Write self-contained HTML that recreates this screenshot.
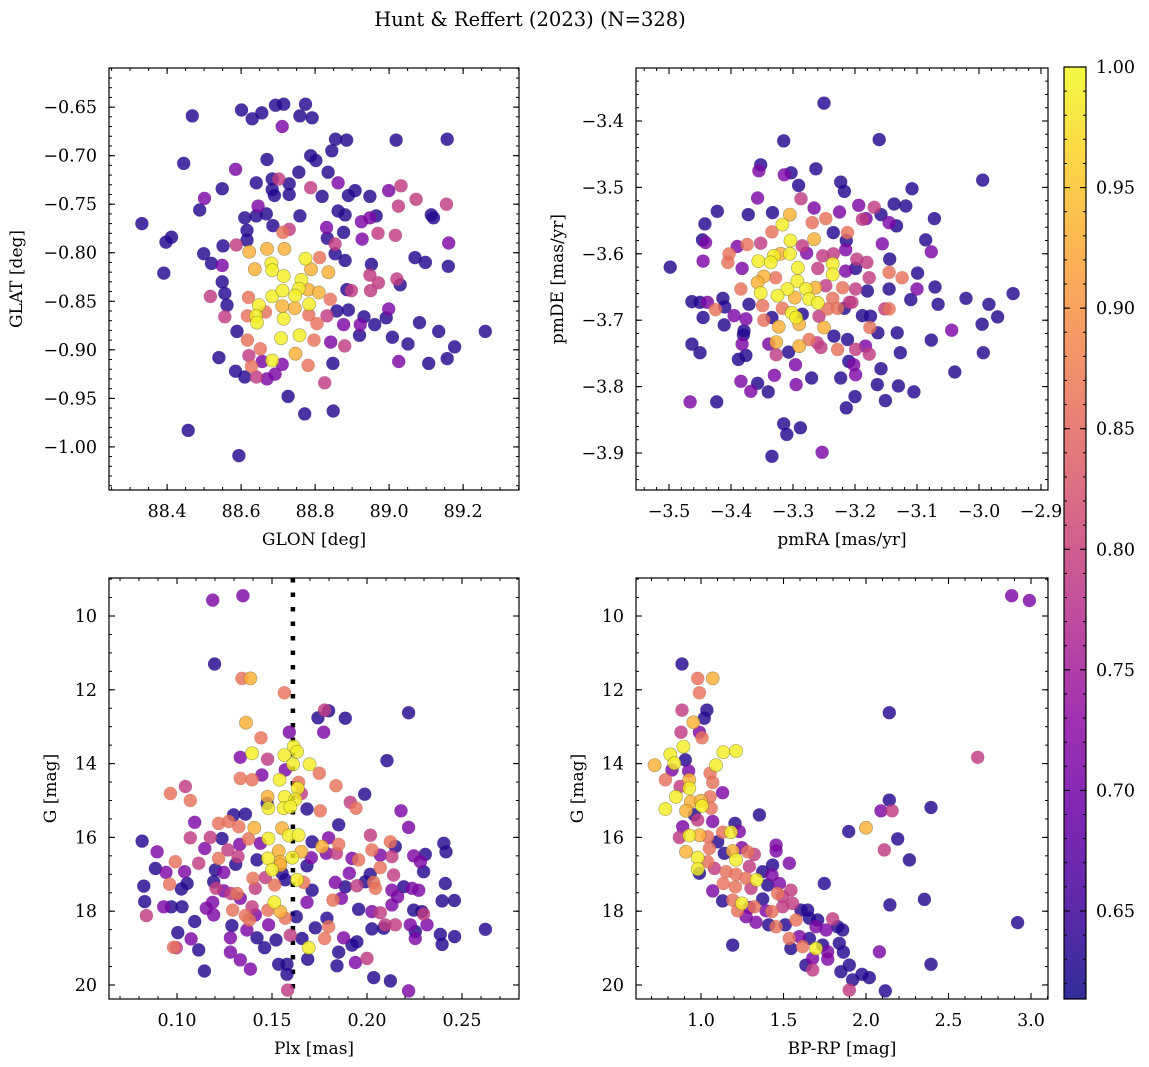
<!DOCTYPE html>
<html><head><meta charset="utf-8"><style>
html,body{margin:0;padding:0;background:#fff;}
svg{display:block;font-family:"DejaVu Serif","Liberation Serif",serif;}
</style></head><body>
<svg id="fig" width="1149" height="1067" viewBox="0 0 1149 1067" xmlns="http://www.w3.org/2000/svg">
<text x="530" y="26" font-size="19.5" text-anchor="middle">Hunt &amp; Reffert (2023) (N=328)</text>
</svg>
<script>
// probability classes: D=0.63 P=0.71 M=0.79 O=0.86 A=0.93 Y=0.99
const glon=[88.468,88.601,88.630,88.656,88.693,88.715,88.774,88.759,88.792,88.711,88.855,88.885,89.019,89.157,88.845,88.788,88.802,88.670,88.445,88.585,88.835,88.756,88.684,88.702,88.641,88.549,88.730,88.684,88.788,88.862,88.819,88.730,88.690,88.908,88.890,88.948,88.999,89.032,89.073,89.155,89.025,88.501,88.488,88.332,88.646,88.668,88.641,88.610,88.759,88.686,88.862,88.881,88.925,88.948,88.965,89.114,89.120,88.831,88.730,88.616,88.713,88.877,88.833,88.970,89.017,88.927,89.161,88.397,88.412,88.551,88.587,88.616,88.717,88.670,88.622,88.854,88.854,88.499,88.520,88.549,88.391,88.637,88.682,88.684,88.715,88.774,88.789,88.812,88.836,88.881,88.952,88.948,89.070,89.098,89.160,88.971,89.021,89.030,88.763,88.756,88.781,88.810,88.549,88.556,88.517,88.620,88.684,88.712,88.746,88.648,88.711,88.745,88.784,88.841,88.886,88.898,88.950,88.562,88.640,88.643,88.715,88.556,88.617,88.666,88.783,88.832,88.859,88.890,88.999,88.992,88.932,88.922,88.961,88.877,89.082,89.134,89.260,89.177,89.157,89.107,89.051,89.009,89.026,88.920,88.589,88.617,88.652,88.708,88.758,88.797,88.805,88.842,88.880,88.848,88.747,88.684,88.711,88.621,88.657,88.628,88.540,88.781,88.585,88.610,88.641,88.670,88.692,88.826,88.727,88.772,88.849,88.457,88.594];
const glat=[-0.659,-0.653,-0.662,-0.656,-0.648,-0.647,-0.647,-0.659,-0.661,-0.670,-0.683,-0.684,-0.684,-0.683,-0.695,-0.700,-0.705,-0.704,-0.708,-0.714,-0.717,-0.717,-0.724,-0.724,-0.728,-0.734,-0.729,-0.735,-0.733,-0.728,-0.742,-0.740,-0.741,-0.736,-0.741,-0.742,-0.736,-0.731,-0.745,-0.750,-0.752,-0.744,-0.756,-0.770,-0.752,-0.760,-0.762,-0.764,-0.762,-0.772,-0.757,-0.761,-0.768,-0.764,-0.762,-0.761,-0.764,-0.774,-0.776,-0.777,-0.779,-0.779,-0.785,-0.780,-0.782,-0.786,-0.790,-0.789,-0.784,-0.793,-0.792,-0.787,-0.796,-0.796,-0.799,-0.791,-0.801,-0.801,-0.811,-0.813,-0.821,-0.817,-0.811,-0.818,-0.824,-0.806,-0.817,-0.805,-0.820,-0.808,-0.812,-0.823,-0.805,-0.810,-0.814,-0.831,-0.827,-0.833,-0.828,-0.837,-0.838,-0.841,-0.830,-0.842,-0.845,-0.846,-0.845,-0.839,-0.844,-0.854,-0.855,-0.857,-0.853,-0.848,-0.838,-0.839,-0.839,-0.854,-0.865,-0.872,-0.868,-0.866,-0.865,-0.861,-0.864,-0.865,-0.860,-0.859,-0.858,-0.867,-0.866,-0.874,-0.874,-0.874,-0.872,-0.881,-0.881,-0.897,-0.909,-0.914,-0.894,-0.887,-0.912,-0.885,-0.881,-0.890,-0.899,-0.888,-0.885,-0.890,-0.873,-0.892,-0.896,-0.914,-0.904,-0.911,-0.915,-0.906,-0.912,-0.917,-0.908,-0.916,-0.922,-0.928,-0.928,-0.930,-0.925,-0.934,-0.948,-0.966,-0.963,-0.983,-1.009];
const prob1=[.63,.63,.63,.63,.63,.63,.63,.63,.63,.71,.63,.63,.63,.63,.63,.63,.63,.63,.63,.71,.63,.63,.63,.79,.63,.63,.63,.63,.79,.71,.63,.63,.63,.63,.63,.63,.71,.79,.79,.79,.79,.71,.63,.63,.71,.63,.63,.63,.63,.63,.63,.63,.71,.71,.63,.63,.63,.71,.79,.63,.86,.63,.63,.79,.79,.71,.71,.63,.63,.63,.79,.63,.93,.93,.93,.79,.63,.63,.63,.71,.63,.93,.99,.99,.99,.99,.93,.86,.93,.63,.63,.79,.63,.63,.63,.79,.79,.63,.99,.99,.93,.93,.63,.63,.79,.86,.99,.99,.99,.99,.93,.93,.99,.86,.63,.79,.79,.63,.99,.99,.99,.79,.86,.86,.86,.79,.63,.63,.71,.63,.63,.71,.63,.71,.63,.63,.63,.63,.63,.63,.63,.63,.71,.63,.63,.86,.86,.99,.99,.86,.86,.71,.79,.63,.93,.99,.71,.79,.71,.86,.63,.86,.63,.63,.79,.71,.71,.79,.63,.63,.63,.63,.63];

const pmra=[-3.250,-3.315,-3.161,-2.994,-3.352,-3.355,-3.263,-3.314,-3.303,-3.291,-3.287,-3.223,-3.217,-3.108,-3.357,-3.266,-3.422,-3.372,-3.333,-3.305,-3.317,-3.269,-3.247,-3.225,-3.194,-3.169,-3.182,-3.158,-3.188,-3.137,-3.118,-3.133,-3.145,-3.072,-3.442,-3.446,-3.441,-3.445,-3.498,-3.334,-3.304,-3.266,-3.285,-3.235,-3.212,-3.214,-3.156,-3.086,-3.077,-3.374,-3.390,-3.352,-3.403,-3.331,-3.320,-3.305,-3.278,-3.252,-3.235,-3.215,-3.197,-3.181,-3.144,-3.356,-3.336,-3.405,-3.382,-3.292,-3.236,-3.236,-3.260,-3.215,-3.199,-3.177,-3.145,-3.124,-3.099,-3.347,-3.357,-3.328,-3.293,-3.309,-3.279,-3.264,-3.247,-3.220,-3.199,-3.180,-3.145,-3.100,-3.071,-2.945,-3.384,-3.352,-3.325,-3.297,-3.274,-3.260,-3.236,-3.209,-3.110,-3.066,-3.021,-2.984,-2.970,-3.463,-3.450,-3.438,-3.425,-3.413,-3.410,-3.395,-3.445,-3.411,-3.371,-3.349,-3.347,-3.334,-3.317,-3.302,-3.295,-3.290,-3.285,-3.258,-3.244,-3.228,-3.217,-3.205,-3.188,-3.175,-3.152,-3.145,-3.176,-3.163,-3.132,-3.077,-3.044,-2.995,-2.993,-3.039,-3.376,-3.379,-3.380,-3.323,-3.327,-3.339,-3.290,-3.250,-3.274,-3.255,-3.234,-3.228,-3.212,-3.199,-3.183,-3.177,-3.463,-3.450,-3.382,-3.388,-3.376,-3.327,-3.307,-3.296,-3.261,-3.210,-3.202,-3.199,-3.158,-3.127,-3.223,-3.384,-3.357,-3.368,-3.330,-3.340,-3.295,-3.270,-3.164,-3.130,-3.105,-3.200,-3.151,-3.214,-3.466,-3.423,-3.315,-3.310,-3.288,-3.334,-3.253];
const pmde=[-3.373,-3.430,-3.428,-3.489,-3.466,-3.475,-3.472,-3.481,-3.478,-3.497,-3.517,-3.492,-3.506,-3.502,-3.516,-3.531,-3.536,-3.541,-3.538,-3.541,-3.556,-3.553,-3.547,-3.537,-3.527,-3.530,-3.547,-3.541,-3.548,-3.525,-3.528,-3.558,-3.553,-3.547,-3.555,-3.579,-3.583,-3.611,-3.620,-3.567,-3.580,-3.578,-3.588,-3.568,-3.568,-3.580,-3.585,-3.579,-3.597,-3.586,-3.589,-3.584,-3.600,-3.603,-3.600,-3.600,-3.599,-3.603,-3.600,-3.594,-3.608,-3.613,-3.608,-3.611,-3.613,-3.613,-3.622,-3.621,-3.615,-3.631,-3.622,-3.626,-3.622,-3.636,-3.628,-3.636,-3.629,-3.634,-3.643,-3.636,-3.641,-3.653,-3.653,-3.651,-3.648,-3.651,-3.653,-3.656,-3.653,-3.653,-3.650,-3.660,-3.653,-3.659,-3.663,-3.666,-3.668,-3.674,-3.667,-3.673,-3.669,-3.676,-3.667,-3.676,-3.695,-3.672,-3.673,-3.673,-3.684,-3.667,-3.680,-3.693,-3.696,-3.707,-3.676,-3.678,-3.700,-3.696,-3.682,-3.689,-3.696,-3.706,-3.691,-3.694,-3.683,-3.682,-3.682,-3.673,-3.693,-3.694,-3.683,-3.683,-3.711,-3.719,-3.719,-3.730,-3.715,-3.706,-3.749,-3.778,-3.698,-3.716,-3.722,-3.710,-3.733,-3.736,-3.739,-3.711,-3.729,-3.741,-3.724,-3.744,-3.729,-3.744,-3.739,-3.751,-3.736,-3.749,-3.736,-3.759,-3.753,-3.752,-3.748,-3.767,-3.734,-3.762,-3.767,-3.782,-3.773,-3.749,-3.787,-3.792,-3.795,-3.807,-3.783,-3.808,-3.797,-3.787,-3.797,-3.799,-3.808,-3.815,-3.821,-3.832,-3.823,-3.823,-3.856,-3.872,-3.862,-3.905,-3.899];
const prob2=[.63,.63,.63,.63,.63,.71,.63,.71,.63,.63,.79,.63,.63,.63,.71,.71,.63,.63,.63,.93,.99,.86,.86,.71,.71,.79,.71,.63,.79,.63,.63,.63,.71,.63,.63,.63,.71,.71,.63,.86,.99,.93,.79,.63,.86,.63,.71,.63,.71,.86,.71,.79,.86,.99,.93,.99,.71,.79,.79,.71,.79,.79,.63,.99,.99,.86,.71,.99,.99,.99,.79,.71,.63,.79,.86,.86,.63,.93,.93,.86,.99,.99,.99,.93,.79,.86,.79,.63,.63,.71,.63,.63,.86,.99,.99,.93,.99,.99,.86,.79,.63,.63,.63,.63,.63,.63,.63,.71,.86,.63,.63,.71,.63,.63,.63,.86,.86,.63,.86,.99,.99,.93,.63,.79,.86,.86,.63,.79,.63,.63,.79,.86,.86,.63,.63,.63,.71,.63,.63,.63,.71,.63,.63,.93,.93,.71,.93,.93,.86,.79,.63,.86,.63,.79,.71,.79,.63,.63,.71,.63,.63,.79,.63,.71,.79,.63,.71,.71,.63,.63,.63,.71,.63,.71,.71,.63,.71,.63,.63,.63,.63,.63,.63,.63,.71,.63,.63,.63,.63,.63,.71];

const plx=[0.1188,0.1347,0.1198,0.1342,0.1386,0.1565,0.1777,0.1798,0.1742,0.1886,0.2219,0.1772,0.1363,0.1442,0.1591,0.1614,0.1632,0.1565,0.1395,0.1333,0.1477,0.1611,0.1698,0.1570,0.2105,0.1447,0.1749,0.1333,0.1395,0.1540,0.1640,0.1837,0.1044,0.0965,0.1070,0.1635,0.1654,0.1477,0.1567,0.1623,0.1474,0.1481,0.1561,0.1596,0.1988,0.1912,0.1942,0.1684,0.1754,0.2179,0.1093,0.1298,0.1360,0.1219,0.1272,0.1325,0.1407,0.1553,0.1588,0.1481,0.1640,0.1851,0.2219,0.0816,0.1070,0.1175,0.1237,0.1330,0.1377,0.1439,0.1711,0.1763,0.1798,0.1851,0.2018,0.2123,0.2149,0.2404,0.2416,0.0895,0.1146,0.1219,0.1268,0.1321,0.1421,0.1479,0.1535,0.1544,0.1607,0.1654,0.1707,0.1786,0.1839,0.1921,0.1956,0.2026,0.2070,0.2131,0.2246,0.2307,0.2281,0.0991,0.1114,0.0886,0.0942,0.1040,0.1202,0.1246,0.1309,0.1500,0.1553,0.1544,0.1684,0.1465,0.1400,0.1632,0.1667,0.1907,0.2017,0.2070,0.2140,0.2298,0.0825,0.0961,0.1053,0.1023,0.1193,0.1205,0.1246,0.1284,0.1316,0.1333,0.1412,0.1514,0.1570,0.1711,0.1833,0.1886,0.1947,0.1991,0.2035,0.2044,0.2131,0.2161,0.2193,0.2237,0.2272,0.2412,0.0830,0.0930,0.0970,0.1026,0.0839,0.1154,0.1188,0.1193,0.1293,0.1395,0.1360,0.1381,0.1412,0.1479,0.1512,0.1544,0.1570,0.1628,0.1684,0.1821,0.1865,0.1956,0.2026,0.2070,0.2131,0.2246,0.2298,0.2395,0.2460,0.1093,0.1004,0.1074,0.0982,0.0996,0.1114,0.1281,0.1289,0.1368,0.1421,0.1461,0.1521,0.1482,0.1596,0.1658,0.1693,0.1688,0.1728,0.1777,0.1789,0.1798,0.1851,0.1877,0.1921,0.1939,0.1947,0.2000,0.1842,0.2026,0.2088,0.2096,0.2149,0.2228,0.2254,0.2289,0.2316,0.2386,0.2395,0.2461,0.2623,0.2254,0.2035,0.2123,0.2219,0.1535,0.1579,0.1579,0.1582,0.1386,0.1333,0.1281,0.1144];
const gmag3=[9.57,9.45,11.30,11.69,11.69,12.08,12.55,12.57,12.76,12.77,12.62,13.15,12.89,13.30,13.15,13.54,13.68,13.77,13.72,13.83,13.88,14.02,14.02,14.17,13.92,14.31,14.26,14.40,14.44,14.44,14.51,14.60,14.62,14.81,15.00,14.67,14.81,14.90,14.90,14.97,15.08,15.21,15.21,15.17,14.83,15.05,15.21,15.23,15.28,15.28,15.59,15.39,15.37,15.62,15.57,15.71,15.74,15.75,15.95,16.03,15.94,15.66,15.73,16.10,16.01,16.00,16.03,16.19,16.04,16.16,16.12,16.25,16.01,16.19,15.94,16.12,16.25,16.16,16.39,16.39,16.30,16.57,16.34,16.52,16.61,16.57,16.37,16.66,16.55,16.39,16.55,16.43,16.43,16.57,16.61,16.34,16.48,16.52,16.50,16.46,16.66,16.66,16.70,16.84,16.95,16.93,16.88,16.95,16.73,16.88,16.97,16.75,16.77,17.09,17.11,17.15,17.22,16.97,17.00,16.82,17.02,16.93,17.32,17.27,17.25,17.40,17.20,17.38,17.45,17.52,17.52,17.65,17.38,17.29,17.15,17.43,17.22,17.34,17.31,17.20,17.22,17.38,17.43,17.61,17.34,17.38,17.43,17.25,17.74,17.88,17.88,17.88,18.12,17.92,17.76,18.10,17.97,17.88,18.12,18.24,18.10,17.97,17.76,18.01,18.19,18.15,17.76,17.70,17.65,17.95,18.01,18.04,17.83,17.97,18.08,17.72,17.71,18.28,18.58,18.75,18.98,18.99,19.05,18.72,18.39,18.51,18.72,18.99,18.78,18.37,18.65,18.74,18.99,19.30,18.45,18.74,18.19,18.42,19.11,18.72,18.92,19.39,18.83,19.28,19.48,18.48,18.46,18.37,18.37,18.37,18.74,18.01,18.37,18.63,18.90,18.69,18.49,18.55,19.80,19.89,20.16,19.44,19.44,19.71,20.14,19.57,19.32,19.11,19.62];
const prob3=[.71,.71,.63,.86,.93,.86,.79,.63,.63,.63,.63,.71,.93,.86,.71,.99,.99,.99,.99,.71,.79,.99,.99,.71,.63,.71,.86,.86,.86,.99,.86,.86,.79,.86,.86,.99,.79,.93,.99,.99,.63,.99,.99,.99,.63,.79,.86,.63,.86,.71,.71,.63,.63,.86,.86,.86,.93,.93,.99,.99,.99,.63,.71,.63,.79,.79,.63,.71,.86,.71,.63,.93,.71,.86,.79,.86,.63,.63,.63,.71,.71,.86,.79,.79,.63,.99,.93,.93,.99,.93,.71,.71,.79,.71,.86,.86,.71,.79,.71,.63,.71,.86,.79,.63,.71,.71,.63,.71,.63,.99,.63,.93,.63,.79,.86,.99,.86,.71,.63,.86,.79,.63,.63,.86,.63,.63,.63,.79,.71,.79,.86,.71,.79,.86,.63,.63,.71,.63,.79,.63,.86,.86,.71,.71,.63,.71,.71,.63,.63,.71,.63,.63,.79,.71,.71,.71,.86,.79,.86,.86,.71,.86,.99,.93,.86,.63,.71,.86,.71,.63,.71,.79,.71,.63,.79,.63,.63,.63,.63,.71,.86,.79,.63,.71,.63,.71,.63,.63,.63,.71,.79,.63,.99,.63,.63,.86,.63,.86,.63,.71,.63,.71,.63,.79,.63,.63,.63,.79,.79,.71,.71,.63,.71,.63,.63,.63,.63,.63,.63,.63,.71,.63,.63,.63,.79,.71,.71,.71,.63];

const bprp=[2.883,2.990,0.885,0.980,1.071,0.990,0.885,1.036,1.020,2.141,0.954,0.879,0.990,1.006,0.893,0.814,0.838,0.719,0.905,1.135,1.212,1.091,2.677,0.824,0.784,0.925,0.929,1.055,1.071,0.873,0.929,0.848,0.939,1.000,1.055,1.131,0.784,0.909,1.006,1.061,0.960,0.980,1.071,1.354,2.141,2.091,2.158,2.394,0.889,0.869,0.929,0.990,1.040,1.182,1.206,1.232,1.131,1.101,1.895,2.000,2.192,0.909,0.980,1.040,1.051,1.141,1.192,1.212,1.248,1.283,1.323,1.455,1.455,1.535,1.434,2.111,2.263,0.980,0.990,1.081,1.152,1.212,1.293,1.374,1.430,1.337,1.273,1.135,1.071,1.208,1.303,1.404,1.475,1.545,1.465,1.495,1.374,1.747,1.131,1.192,1.248,1.222,1.293,1.323,1.394,1.430,1.495,1.556,1.606,1.646,1.273,1.333,1.410,1.455,1.511,1.576,1.657,1.707,1.798,1.697,1.758,1.828,1.859,1.535,1.596,1.657,1.697,1.616,1.545,1.737,1.768,1.838,1.863,1.768,1.677,1.636,1.677,1.848,1.899,1.919,1.976,2.020,1.899,2.117,2.081,2.145,2.354,2.394,2.919,1.192];
const gmag4=[9.45,9.58,11.30,11.69,11.69,12.08,12.55,12.55,12.77,12.62,12.88,13.15,13.15,13.30,13.54,13.75,13.99,14.04,13.90,13.69,13.66,14.04,13.83,14.17,14.44,14.20,14.44,14.26,14.51,14.62,14.67,14.90,15.03,15.01,14.90,14.79,15.23,15.28,15.15,15.21,15.39,15.53,15.57,15.39,14.99,15.28,15.28,15.19,15.71,16.00,15.95,15.94,15.98,15.86,15.62,15.84,15.86,16.12,15.84,15.74,16.04,16.39,16.55,16.66,16.30,16.43,16.37,16.61,16.28,16.39,16.46,16.21,16.37,16.70,16.75,16.34,16.61,16.86,16.97,16.84,16.93,17.00,16.79,16.93,17.02,17.15,17.11,17.25,17.45,17.34,17.38,17.29,17.25,17.43,17.52,17.61,17.67,17.25,17.72,17.70,17.79,17.99,17.90,17.88,17.99,18.01,17.88,17.79,17.97,17.97,18.15,18.30,18.37,18.42,18.37,18.24,18.19,18.24,18.21,18.42,18.51,18.42,18.51,18.74,18.69,18.74,19.01,18.96,19.01,18.92,19.10,18.87,19.11,19.30,19.28,19.46,19.59,19.64,19.46,19.86,19.71,19.80,20.14,20.16,19.10,17.83,17.68,19.44,18.31,18.92];
const prob4=[.71,.71,.63,.86,.93,.86,.79,.63,.63,.63,.93,.79,.71,.86,.99,.99,.99,.93,.63,.99,.99,.99,.79,.71,.86,.71,.93,.86,.86,.79,.99,.99,.93,.93,.86,.71,.99,.93,.99,.86,.63,.79,.71,.63,.63,.71,.79,.63,.71,.79,.99,.93,.86,.99,.63,.71,.86,.63,.63,.93,.63,.93,.99,.86,.86,.63,.93,.99,.71,.86,.79,.71,.71,.71,.63,.79,.63,.99,.63,.79,.86,.86,.79,.63,.71,.99,.86,.86,.71,.86,.79,.63,.71,.79,.86,.79,.63,.63,.63,.86,.99,.86,.71,.86,.71,.86,.79,.79,.63,.63,.71,.71,.63,.86,.63,.86,.63,.63,.79,.71,.71,.63,.63,.86,.71,.63,.99,.86,.63,.63,.71,.63,.63,.71,.71,.63,.79,.63,.63,.63,.63,.63,.79,.63,.71,.63,.63,.63,.63,.63];

const p1XTicks=[88.4,88.6,88.8,89.0,89.2];
const p1YTicks=[-0.65,-0.70,-0.75,-0.80,-0.85,-0.90,-0.95,-1.00];
const p2XTicks=[-3.5,-3.4,-3.3,-3.2,-3.1,-3.0,-2.9];
const p2YTicks=[-3.4,-3.5,-3.6,-3.7,-3.8,-3.9];
const p3XTicks=[0.10,0.15,0.20,0.25];
const gYTicks=[10,12,14,16,18,20];
const p4XTicks=[1.0,1.5,2.0,2.5,3.0];
const cbTicks=[0.65,0.70,0.75,0.80,0.85,0.90,0.95,1.00];
const plxRef=[0.161];
const cbRange=[0.6135,1.0];

const NS="http://www.w3.org/2000/svg";
const svg=document.getElementById('fig');
const plasma=[[13,8,135],[65,4,157],[106,0,168],[143,13,164],[177,42,144],[204,71,120],[225,100,98],[242,132,75],[252,166,54],[252,206,37],[240,249,33]];
function cmap(t){t=Math.max(0,Math.min(1,t));const f=t*10,i=Math.min(9,Math.floor(f)),r=f-i;const a=plasma[i],b=plasma[i+1];return 'rgb('+a.map((v,k)=>Math.round(v+(b[k]-v)*r)).join(',')+')';}
function pc(p){return cmap((p-cbRange[0])/(cbRange[1]-cbRange[0]));}
function mk(tag,attrs,parent){const e=document.createElementNS(NS,tag);for(const k in attrs)e.setAttribute(k,attrs[k]);(parent||svg).appendChild(e);return e;}
function fmt(v,d){return (v<0?'\u2212':'')+Math.abs(v).toFixed(d);}

function panel(c){
  const g=mk('g',{});
  
  
  const sx=v=>c.x0+(v-c.xd[0])/(c.xd[1]-c.xd[0])*(c.x1-c.x0);
  const sy=v=>c.y0+(v-c.yd[0])/(c.yd[1]-c.yd[0])*(c.y1-c.y0);
  const clipId='clip-'+c.name;
  const cp=mk('clipPath',{id:clipId},g);mk('rect',{x:c.x0,y:c.y0,width:c.x1-c.x0,height:c.y1-c.y0},cp);
  const pts=mk('g',{'clip-path':'url(#'+clipId+')'},g);
  if(c.vline){
    const l=mk('line',{x1:sx(c.vline[0]),x2:sx(c.vline[0]),y1:c.y0,y2:c.y1,stroke:'#000','stroke-width':4.5,'stroke-dasharray':'4.5,10'},pts);
    
    
  }
  const idx=c.xs.map((_,i)=>i).sort((a,b)=>c.cs[a]-c.cs[b]);
  for(const i of idx){
    const p=c.cs[i];
    const el=mk('circle',{cx:sx(c.xs[i]).toFixed(1),cy:sy(c.ys[i]).toFixed(1),r:6.6,fill:pc(p),'fill-opacity':0.82,stroke:p>0.9?'rgba(90,90,40,0.55)':'rgba(60,60,60,0.12)','stroke-width':0.6},pts);
    
    
  }
  mk('rect',{x:c.x0,y:c.y0,width:c.x1-c.x0,height:c.y1-c.y0,fill:'none',stroke:'#000','stroke-width':1.2},g);
  const xmin=Math.min(...c.xd),xmax=Math.max(...c.xd),ymin=Math.min(...c.yd),ymax=Math.max(...c.yd);
  for(let k=Math.ceil(xmin/c.xm-1e-6);k*c.xm<=xmax+1e-9;k++){const v=k*c.xm,x=sx(v);
    mk('line',{x1:x,x2:x,y1:c.y1,y2:c.y1-3,stroke:'#000'},g);mk('line',{x1:x,x2:x,y1:c.y0,y2:c.y0+3,stroke:'#000'},g);}
  for(let k=Math.ceil(ymin/c.ym-1e-6);k*c.ym<=ymax+1e-9;k++){const v=k*c.ym,y=sy(v);
    mk('line',{x1:c.x0,x2:c.x0+3,y1:y,y2:y,stroke:'#000'},g);mk('line',{x1:c.x1,x2:c.x1-3,y1:y,y2:y,stroke:'#000'},g);}
  for(const v of c.xt){const x=sx(v);
    mk('line',{x1:x,x2:x,y1:c.y1,y2:c.y1-6,stroke:'#000','stroke-width':1.1},g);mk('line',{x1:x,x2:x,y1:c.y0,y2:c.y0+6,stroke:'#000','stroke-width':1.1},g);
    const t=mk('text',{x:x,y:c.y1+27,'font-size':17.5,'text-anchor':'middle'},g);t.textContent=fmt(v,c.xf);
    
    }
  for(const v of c.yt){const y=sy(v);
    mk('line',{x1:c.x0,x2:c.x0+6,y1:y,y2:y,stroke:'#000','stroke-width':1.1},g);mk('line',{x1:c.x1,x2:c.x1-6,y1:y,y2:y,stroke:'#000','stroke-width':1.1},g);
    const t=mk('text',{x:c.x0-12,y:y+6,'font-size':17.5,'text-anchor':'end'},g);t.textContent=fmt(v,c.yf);
    
    }
  const xl=mk('text',{x:(c.x0+c.x1)/2,y:c.y1+55,'font-size':17,'text-anchor':'middle'},g);xl.textContent=c.xlabel;
  
  
  const yl=mk('text',{x:0,y:0,'font-size':17,'text-anchor':'middle',transform:'translate('+c.ylx+','+((c.y0+c.y1)/2)+') rotate(-90)'},g);yl.textContent=c.ylabel;
  
  
}

panel({name:'glon-glat-panel',x0:109,x1:519,y0:68,y1:490,xd:[88.243,89.351],yd:[-0.6097,-1.0444],xt:p1XTicks,xf:1,xm:0.05,yt:p1YTicks,yf:2,ym:0.01,xs:glon,ys:glat,cs:prob1,xlabel:'GLON [deg]',ylabel:'GLAT [deg]',ylx:22});
panel({name:'proper-motion-panel',x0:636,x1:1048,y0:68,y1:490,xd:[-3.5532,-2.8887],yd:[-3.3202,-3.9557],xt:p2XTicks,xf:1,xm:0.02,yt:p2YTicks,yf:1,ym:0.02,xs:pmra,ys:pmde,cs:prob2,xlabel:'pmRA [mas/yr]',ylabel:'pmDE [mas/yr]',ylx:563});
panel({name:'parallax-magnitude-panel',x0:109,x1:519,y0:578,y1:999,xd:[0.0642,0.2800],yd:[8.97,20.38],xt:p3XTicks,xf:2,xm:0.01,yt:gYTicks,yf:0,ym:0.5,xs:plx,ys:gmag3,cs:prob3,xlabel:'Plx [mas]',ylabel:'G [mag]',ylx:56,vline:plxRef});
panel({name:'color-magnitude-panel',x0:636,x1:1048,y0:578,y1:999,xd:[0.606,3.103],yd:[8.97,20.38],xt:p4XTicks,xf:1,xm:0.1,yt:gYTicks,yf:0,ym:0.5,xs:bprp,ys:gmag4,cs:prob4,xlabel:'BP-RP [mag]',ylabel:'G [mag]',ylx:583});

(function(){
  const x0=1064,x1=1086,y0=67,y1=999;
  const g=mk('g',{});
  
  
  const defs=mk('defs',{},g);
  const lg=mk('linearGradient',{id:'plasmaGrad',x1:0,y1:1,x2:0,y2:0},defs);
  for(let i=0;i<=20;i++)mk('stop',{offset:(i/20),'stop-color':cmap(i/20)},lg);
  mk('rect',{x:x0,y:y0,width:x1-x0,height:y1-y0,fill:'url(#plasmaGrad)','fill-opacity':0.85,stroke:'#000','stroke-width':1.2},g);
  const sy=v=>y1-(v-cbRange[0])/(cbRange[1]-cbRange[0])*(y1-y0);
  for(let k=Math.ceil(cbRange[0]*100);k<=100;k++){const y=sy(k/100);
    mk('line',{x1:x0,x2:x0+3,y1:y,y2:y,stroke:'#000'},g);mk('line',{x1:x1,x2:x1-3,y1:y,y2:y,stroke:'#000'},g);}
  for(const v of cbTicks){const y=sy(v);
    mk('line',{x1:x0,x2:x0+6,y1:y,y2:y,stroke:'#000','stroke-width':1.1},g);mk('line',{x1:x1,x2:x1-6,y1:y,y2:y,stroke:'#000','stroke-width':1.1},g);
    const t=mk('text',{x:x1+10,y:y+6,'font-size':17.5},g);t.textContent=v.toFixed(2);
    
    }
})();
</script>
</body></html>
